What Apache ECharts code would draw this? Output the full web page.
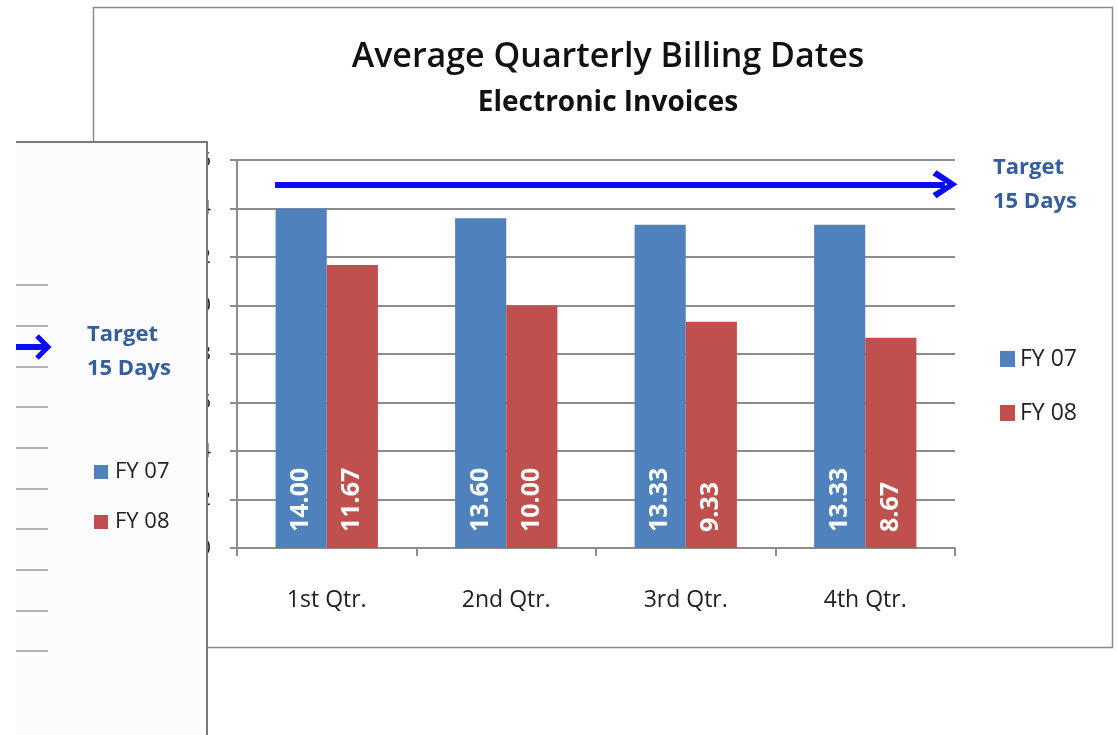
<!DOCTYPE html>
<html lang="en">
<head>
<meta charset="UTF-8" />
<title>Average Quarterly Billing Dates</title>
<script src="https://cdnjs.cloudflare.com/ajax/libs/echarts/6.0.0/echarts.min.js"></script>
<style>
    html, body { margin: 0; padding: 0; background: #fff; }
    #main { width: 1117px; height: 735px; }
</style>
</head>
<body>
<div id="main"></div>
<script>
    // data
    var quarters = ['1st Qtr.', '2nd Qtr.', '3rd Qtr.', '4th Qtr.'];
    var fy07 = [14.00, 13.60, 13.33, 13.33];
    var fy08 = [11.67, 10.00, 9.33, 8.67];
    var yTicks = [0, 2, 4, 6, 8, 10, 12, 14, 16];
    var target = 15;
    // target arrow runs from just before the first bar to past the last one
    var targetSpan = [-0.288, 3.444];

    var FONT = 'Open Sans';
    var BLUE = '#4F81BD', RED = '#C0504D', GRID = '#8c8c8c';
    var ARROW = '#0b0bf5', TXT_BLUE = '#355E9E';

    // chevron pointing up, markLine rotates it along the line
    var chevron = 'path://M14,0 L28,21 L23,25 L14,10 L5,25 L0,21 Z';

    var myChart = echarts.init(document.getElementById('main'));

    var barLabel = {
        show: true,
        position: 'insideBottom',
        distance: 16,
        rotate: 90,
        align: 'left',
        verticalAlign: 'middle',
        color: '#fff',
        fontFamily: FONT,
        fontWeight: 'bold',
        fontSize: 25,
        formatter: function (p) { return p.value.toFixed(2); }
    };

    var option = {
        animation: false,
        title: [
            {
                text: 'Average Quarterly Billing Dates',
                left: 603, top: 35, textAlign: 'center',
                textStyle: { fontFamily: FONT, fontSize: 34, fontWeight: 600, color: '#111' }
            },
            {
                text: 'Electronic Invoices',
                left: 603, top: 84, textAlign: 'center',
                textStyle: { fontFamily: FONT, fontSize: 28, fontWeight: 'bold', color: '#111' }
            }
        ],
        legend: {
            data: ['FY 07', 'FY 08'],
            orient: 'vertical',
            left: 1000, top: 347, padding: 0,
            icon: 'rect',
            itemWidth: 15, itemHeight: 16,
            itemGap: 30,
            textStyle: { fontFamily: FONT, fontSize: 23, lineHeight: 24, color: '#222' }
        },
        grid: [
            { left: 237, right: 162, top: 160, bottom: 187 },
            // leftovers of the overlapping chart on the left
            { left: 16, width: 32, top: 285, height: 366 }
        ],
        xAxis: [
            {
                type: 'category',
                data: quarters,
                axisLine: { lineStyle: { color: GRID, width: 2 } },
                axisTick: { show: true, length: 8, lineStyle: { color: GRID, width: 2 } },
                axisLabel: { margin: 41, fontFamily: FONT, fontSize: 23, color: '#222' }
            },
            { type: 'value', min: -0.5, max: 3.5, show: false },
            {
                gridIndex: 1, type: 'category', data: [''], z: 3,
                axisLine: { show: false }, axisTick: { show: false }, axisLabel: { show: false }
            }
        ],
        yAxis: [
            {
                type: 'value',
                min: yTicks[0], max: yTicks[yTicks.length - 1], interval: 2,
                axisLine: { show: true, onZero: false, lineStyle: { color: GRID, width: 2 } },
                axisTick: { show: true, length: 7, lineStyle: { color: GRID, width: 2 } },
                splitLine: { lineStyle: { color: GRID, width: 2 } },
                axisLabel: { margin: 26, fontFamily: FONT, fontSize: 20, color: '#222' }
            },
            {
                gridIndex: 1, type: 'value', min: 0, max: 9, interval: 1, z: 3,
                axisLine: { show: false }, axisTick: { show: false }, axisLabel: { show: false },
                splitLine: { lineStyle: { color: '#9a9a9a', width: 1.5 } }
            }
        ],
        series: [
            {
                name: 'FY 07', type: 'bar', data: fy07,
                barGap: '0%', barCategoryGap: '43%',
                itemStyle: { color: BLUE },
                label: barLabel
            },
            {
                name: 'FY 08', type: 'bar', data: fy08,
                itemStyle: { color: RED },
                label: barLabel
            },
            {
                name: 'Target', type: 'line', xAxisIndex: 1, yAxisIndex: 0,
                data: [], silent: true,
                markLine: {
                    silent: true,
                    symbol: ['none', chevron],
                    symbolSize: [28, 25],
                    label: { show: false },
                    lineStyle: { color: ARROW, width: 6, type: 'solid' },
                    data: [[{ coord: [targetSpan[0], target] }, { coord: [targetSpan[1], target] }]]
                }
            }
        ],
        graphic: [
            // frame of the chart
            {
                type: 'rect', z: -1,
                shape: { x: 93.5, y: 7.5, width: 1019, height: 640 },
                style: { fill: 'transparent', stroke: '#8a8a8a', lineWidth: 1.5 }
            },
            {
                type: 'text', z: 5,
                style: {
                    x: 993, y: 151, text: 'Target\n15 Days',
                    font: 'bold 22px "Open Sans"', fill: TXT_BLUE, lineHeight: 34
                }
            },
            // the other chart lying over the left side
            {
                type: 'rect', z: 1,
                shape: { x: 16, y: 142, width: 191, height: 600 },
                style: { fill: '#fcfcfe' }
            },
            {
                type: 'polyline', z: 2,
                shape: { points: [[16, 142], [207, 142], [207, 740]] },
                style: { stroke: '#7a7a7a', lineWidth: 2, fill: null }
            },
            {
                type: 'polyline', z: 4,
                shape: { points: [[16, 347], [46, 347]] },
                style: { stroke: ARROW, lineWidth: 6 }
            },
            {
                type: 'polyline', z: 4,
                shape: { points: [[37, 336], [48, 347], [37, 358]] },
                style: { stroke: ARROW, lineWidth: 5, fill: null }
            },
            {
                type: 'text', z: 4,
                style: {
                    x: 87, y: 318, text: 'Target\n15 Days',
                    font: 'bold 22px "Open Sans"', fill: TXT_BLUE, lineHeight: 34
                }
            },
            {
                type: 'rect', z: 4,
                shape: { x: 94, y: 465, width: 14, height: 14 },
                style: { fill: BLUE }
            },
            {
                type: 'text', z: 4,
                style: { x: 115, y: 472, text: 'FY 07', font: '22px "Open Sans"', fill: '#222', verticalAlign: 'middle' }
            },
            {
                type: 'rect', z: 4,
                shape: { x: 94, y: 515, width: 14, height: 14 },
                style: { fill: RED }
            },
            {
                type: 'text', z: 4,
                style: { x: 115, y: 522, text: 'FY 08', font: '22px "Open Sans"', fill: '#222', verticalAlign: 'middle' }
            }
        ]
    };
    myChart.setOption(option);
</script>
</body>
</html>
